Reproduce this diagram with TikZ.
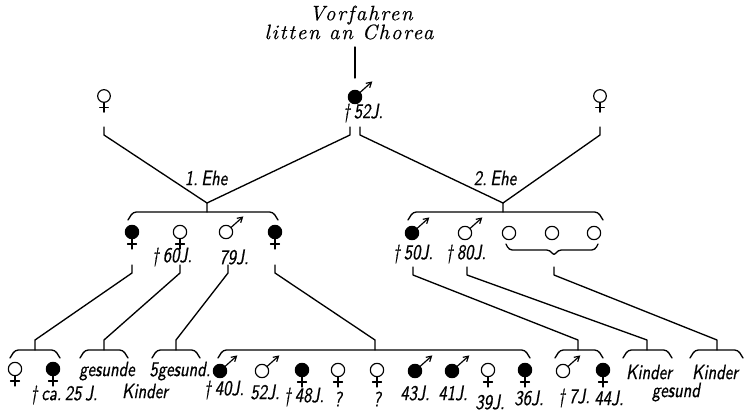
\documentclass[tikz,border=0pt]{standalone}
\usepackage{fontspec}
\usetikzlibrary{arrows.meta,calc}

\newfontfamily\titlefont[LetterSpace=8,FakeBold=0.4]{lmroman10-italic.otf}
\newfontfamily\labfont[FakeStretch=0.8,FakeBold=0.6]{lmsans10-oblique.otf}

\tikzset{
    kin/.style={line width=0.8pt},
    sym/.style={line width=0.7pt},
    lab/.style={font=\labfont\fontsize{12.5}{14}\selectfont,inner sep=0pt},
    title/.style={font=\titlefont\fontsize{12.5}{14}\selectfont,inner sep=0pt}
}

% female sign, #3 = fill (black: affected)
\newcommand{\drawFemale}[3][1]{
    \begin{scope}[shift={(#2)},scale=#1]
        \draw[sym,fill=#3] (0,0) circle (4pt);
        \draw[sym] (0,6.7) -- (0,17);
        \draw[sym] (-4.5,12) -- (4.5,12);
    \end{scope}
}
% male sign
\newcommand{\drawMale}[2]{
    \begin{scope}[shift={(#1)}]
        \draw[sym,fill=#2] (0,0) circle (4pt);
        \draw[sym,-{Straight Barb[length=3pt,width=3.5pt]}] (42:4pt) -- (42:14pt);
    \end{scope}
}
\newcommand{\drawChild}[1]{
    \draw[sym,fill=white] (#1) circle (4pt);
}
% sibship bracket: left corner, right corner, height
\newcommand{\drawBracket}[3]{
    \draw[kin,rounded corners=2pt] (#1-5,#3+8) -- (#1,#3) -- (#2,#3) -- (#2+5,#3+8);
}

\begin{document}
\begin{tikzpicture}[x=0.6pt,y=-0.6pt,line cap=round,line join=round]
        \useasboundingbox (0,0) rectangle (744,416);

        % --- Generation I ---
        \node[title] (anc) at (361,15) {Vorfahren};
        \node[title] (anc2) at (349,32) {litten an Chorea};
        \coordinate (ancDown) at (355,47);
        \coordinate (gfTop) at (355,78);
        \draw[kin] (ancDown) -- (gfTop);

        \coordinate (w1) at (104,96);
        \coordinate (gf) at (355,97);
        \coordinate (w2) at (600,96);
        \drawFemale[0.95]{w1}{white}
        \drawMale{gf}{black}
        \drawFemale[0.95]{w2}{white}
        \node[lab] (gfAge) at (363,113) {\textdagger\,52J.};

        \coordinate (w1d) at (104,127);
        \coordinate (gfl) at (350,127);
        \coordinate (gfr) at (360,127);
        \coordinate (w2d) at (600,127);
        \coordinate (m1) at (207,203);
        \coordinate (m2) at (503,203);

        % marriages
        \draw[kin] (w1d) -- ++(0,8) -- (m1);
        \draw[kin] (gfl) -- ++(0,8) -- (m1) -- ++(0,9);
        \draw[kin] (gfr) -- ++(0,8) -- (m2);
        \draw[kin] (w2d) -- ++(0,8) -- (m2) -- ++(0,9);
        \node[lab] (ehe1) at (206,178) {1.\,Ehe};
        \node[lab] (ehe2) at (495,178) {2.\,Ehe};

        % --- Generation II ---
        \drawBracket{133}{273}{212}
        \drawBracket{413}{598}{212}

        \coordinate (c1) at (132,232);
        \coordinate (c2) at (180,232);
        \coordinate (c3) at (226,232);
        \coordinate (c4) at (275,232);
        \drawFemale{c1}{black}
        \drawFemale{c2}{white}
        \drawMale{c3}{white}
        \drawFemale{c4}{black}
        \node[lab] (c2Age) at (172,257) {\textdagger\,60J.};
        \node[lab] (c3Age) at (234,257) {79J.};

        \coordinate (d1) at (412,233);
        \coordinate (d2) at (465,233);
        \coordinate (d3) at (509,233);
        \coordinate (d4) at (552,233);
        \coordinate (d5) at (594,233);
        \drawMale{d1}{black}
        \drawMale{d2}{white}
        \drawChild{d3}
        \drawChild{d4}
        \drawChild{d5}
        \node[lab] (d1Age) at (413,254) {\textdagger\,50J.};
        \node[lab] (d2Age) at (466,254) {\textdagger\,80J.};
        \coordinate (braceTip) at (554,256);
        \draw[kin,rounded corners=2pt] (506,244) -- (509,250) -- (550,250) -- (braceTip) -- (558,250) -- (595,250) -- (598,244);

        % descent lines
        \coordinate (c1d) at (132,265);
        \coordinate (c2d) at (180,265);
        \coordinate (c3d) at (228,265);
        \coordinate (c4d) at (275,265);
        \coordinate (d1d) at (413,267);
        \coordinate (d2d) at (467,267);
        \coordinate (bd) at (554,267);
        \coordinate (jA) at (35,340);
        \coordinate (jB) at (104,340);
        \coordinate (jC) at (176,340);
        \coordinate (jD) at (375,340);
        \coordinate (jE) at (578,340);
        \coordinate (jF) at (647,340);
        \coordinate (jG) at (717,340);

        \draw[kin] (c1d) -- ++(0,8) -- (jA) -- ++(0,10);
        \draw[kin] (c2d) -- ++(0,8) -- (jB) -- ++(0,10);
        \draw[kin] (c3d) -- ++(0,8) -- (jC) -- ++(0,10);
        \draw[kin] (c4d) -- ++(0,8) -- (jD) -- ++(0,10);
        \draw[kin] (d1d) -- ++(0,8) -- (jE) -- ++(0,10);
        \draw[kin] (d2d) -- ++(0,8) -- (jF) -- ++(0,10);
        \draw[kin] (bd) -- ++(0,8) -- (jG) -- ++(0,10);

        % --- Generation III ---
        \drawBracket{15}{55}{350}
        \drawBracket{85}{123}{350}
        \drawBracket{157}{195}{350}
        \drawBracket{223}{525}{350}
        \drawBracket{560}{598}{350}
        \drawBracket{628}{667}{350}
        \drawBracket{695}{738}{350}

        \coordinate (a1) at (15,369);
        \coordinate (a2) at (53,369);
        \drawFemale{a1}{white}
        \drawFemale{a2}{black}
        \node[lab] (a2Age) at (64,395) {\textdagger\,ca.\,25\,J.};

        \node[lab] (bTxt) at (107,371) {gesunde};
        \node[lab] (bTxt2) at (145,391) {Kinder};
        \node[lab] (cTxt) at (180,371) {5gesund.};

        \coordinate (e1) at (220,371);
        \coordinate (e2) at (262,371);
        \coordinate (e3) at (302,370);
        \coordinate (e4) at (338,370);
        \coordinate (e5) at (377,370);
        \coordinate (e6) at (415,371);
        \coordinate (e7) at (452,371);
        \coordinate (e8) at (488,370);
        \coordinate (e9) at (525,370);
        \drawMale{e1}{black}
        \drawMale{e2}{white}
        \drawFemale{e3}{black}
        \drawFemale{e4}{white}
        \drawFemale{e5}{white}
        \drawMale{e6}{black}
        \drawMale{e7}{black}
        \drawFemale{e8}{white}
        \drawFemale{e9}{black}
        \node[lab] (e1Age) at (224,390) {\textdagger\,40J.};
        \node[lab] (e2Age) at (265,392) {52J.};
        \node[lab] (e3Age) at (304,397) {\textdagger\,48J.};
        \node[lab] (e4Age) at (338,399) {?};
        \node[lab] (e5Age) at (377,399) {?};
        \node[lab] (e6Age) at (415,393) {43J.};
        \node[lab] (e7Age) at (453,393) {41J.};
        \node[lab] (e8Age) at (490,402) {39J.};
        \node[lab] (e9Age) at (529,398) {36J.};

        \coordinate (f1) at (563,371);
        \coordinate (f2) at (603,370);
        \drawMale{f1}{white}
        \drawFemale{f2}{black}
        \node[lab] (f1Age) at (574,398) {\textdagger\,7J.};
        \node[lab] (f2Age) at (609,398) {44J.};

        \node[lab] (gTxt) at (649,372) {Kinder};
        \node[lab] (gTxt2) at (676,392) {gesund};
        \node[lab] (hTxt) at (715,372) {Kinder};

\end{tikzpicture}
\end{document}
